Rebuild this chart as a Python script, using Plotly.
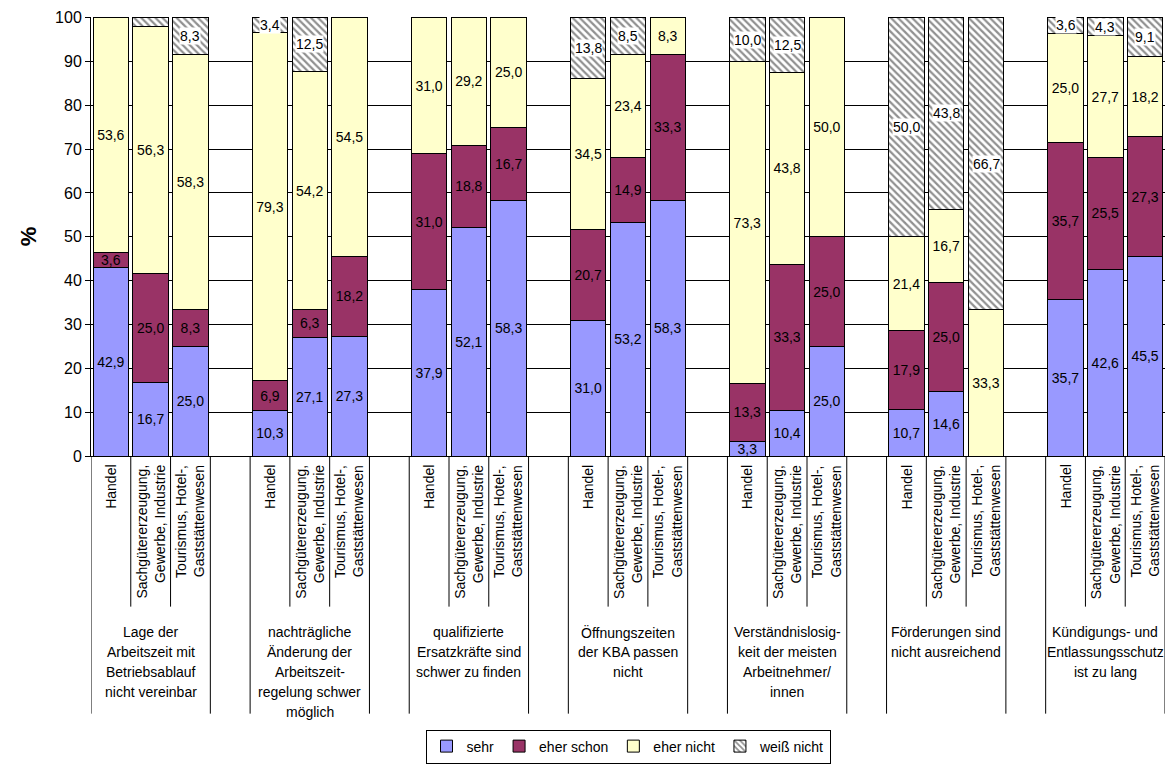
import plotly.graph_objects as go

FONT = "Liberation Sans, Arial, sans-serif"

sectors = ["Handel", "Sachgütererzeugung,<br>Gewerbe, Industrie", "Tourismus, Hotel-,<br>Gaststättenwesen"]
groups = [
    "Lage der<br>Arbeitszeit mit<br>Betriebsablauf<br>nicht vereinbar",
    "nachträgliche<br>Änderung der<br>Arbeitszeit-<br>regelung schwer<br>möglich",
    "qualifizierte<br>Ersatzkräfte sind<br>schwer zu finden",
    "Öffnungszeiten<br>der KBA passen<br>nicht",
    "Verständnislosig-<br>keit der meisten<br>Arbeitnehmer/<br>innen",
    "Förderungen sind<br>nicht ausreichend",
    "Kündigungs- und<br>Entlassungsschutz<br>ist zu lang",
]
series_names = ["sehr", "eher schon", "eher nicht", "weiß nicht"]

sehr = [42.9, 16.7, 25.0, 10.3, 27.1, 27.3, 37.9, 52.1, 58.3, 31.0, 53.2, 58.3,
        3.3, 10.4, 25.0, 10.7, 14.6, 0.0, 35.7, 42.6, 45.5]
eher_schon = [3.6, 25.0, 8.3, 6.9, 6.3, 18.2, 31.0, 18.8, 16.7, 20.7, 14.9, 33.3,
              13.3, 33.3, 25.0, 17.9, 25.0, 0.0, 35.7, 25.5, 27.3]
eher_nicht = [53.6, 56.3, 58.3, 79.3, 54.2, 54.5, 31.0, 29.2, 25.0, 34.5, 23.4, 8.3,
              73.3, 43.8, 50.0, 21.4, 16.7, 33.3, 25.0, 27.7, 18.2]
weiss_nicht = [0.0, 2.1, 8.3, 3.4, 12.5, 0.0, 0.0, 0.0, 0.0, 13.8, 8.5, 0.0,
               10.0, 12.5, 0.0, 50.0, 43.8, 66.7, 3.6, 4.3, 9.1]

colors = ["#9999FF", "#993366", "#FFFFCC", "#FFFFFF"]

n_groups = len(groups)
n_sec = len(sectors)
slot = n_sec + 1
xpos = [g * slot + j for g in range(n_groups) for j in range(n_sec)]


def lab(v):
    return f"{v:.1f}".replace(".", ",") if v >= 3 else ""


fig = go.Figure()
series = [sehr, eher_schon, eher_nicht]
for name, vals, col in zip(series_names[:3], series, colors[:3]):
    fig.add_trace(go.Bar(
        x=xpos, y=vals, name=name,
        marker=dict(color=col, line=dict(color="#000000", width=1)),
        text=[lab(v) for v in vals], textposition="inside", insidetextanchor="middle",
        textangle=0, textfont=dict(family=FONT, size=14, color="#000000"),
        cliponaxis=False, hoverinfo="skip",
    ))

fig.add_trace(go.Bar(
    x=xpos, y=weiss_nicht, name=series_names[3],
    marker=dict(color="#FFFFFF", line=dict(color="#000000", width=1),
                pattern=dict(shape="\\", fgcolor="#222222", bgcolor="#FFFFFF", size=5, solidity=0.45)),
    cliponaxis=False, hoverinfo="skip",
))

annotations = []
# labels for "weiß nicht" with white background
for x, a, b, c, d in zip(xpos, sehr, eher_schon, eher_nicht, weiss_nicht):
    if d >= 3:
        annotations.append(dict(
            x=x, y=a + b + c + d / 2, xref="x", yref="y", text=lab(d), showarrow=False,
            font=dict(family=FONT, size=14, color="#000000"), bgcolor="#FFFFFF", borderpad=0,
        ))

plot_h = 443.0
def py(pix):
    return (460 - pix) / plot_h

shapes = []
for g in range(n_groups):
    start = g * slot - 0.5
    end = start + n_sec
    for xv in (start, end):
        shapes.append(dict(type="line", xref="x", yref="paper", x0=xv, x1=xv, y0=0, y1=py(720),
                           line=dict(color="#000000", width=1)))
    for k in range(1, n_sec):
        shapes.append(dict(type="line", xref="x", yref="paper", x0=start + k, x1=start + k,
                           y0=0, y1=py(612), line=dict(color="#000000", width=1)))
    for j, s in enumerate(sectors):
        annotations.append(dict(
            x=g * slot + j, y=py(467), xref="x", yref="paper", text=s, showarrow=False,
            textangle=-90, xanchor="center", yanchor="top", align="right",
            font=dict(family=FONT, size=14, color="#000000"),
        ))
    for li, line in enumerate(groups[g].split("<br>")):
        annotations.append(dict(
            x=g * slot + (n_sec - 1) / 2, y=py(628 + 20 * li), xref="x", yref="paper", text=line,
            showarrow=False, xanchor="center", yanchor="top", align="center",
            font=dict(family=FONT, size=14, color="#000000"),
        ))

fig.update_layout(
    width=1168, height=767,
    margin=dict(l=91, r=3, t=17, b=307),
    barmode="stack", bargap=0.11,
    plot_bgcolor="#FFFFFF", paper_bgcolor="#FFFFFF",
    font=dict(family=FONT, size=14, color="#000000"),
    uniformtext=dict(minsize=14, mode="show"),
    showlegend=True,
    legend=dict(orientation="h", x=0.5, xanchor="center", y=py(736), yanchor="top",
                bordercolor="#000000", borderwidth=1, font=dict(family=FONT, size=14),
                itemwidth=30, traceorder="normal"),
    xaxis=dict(range=[-0.5, n_groups * slot - 1.5], showticklabels=False, showgrid=False,
               zeroline=False, showline=True, linecolor="#000000", linewidth=1, ticks=""),
    yaxis=dict(range=[0, 100.12], tickvals=list(range(0, 101, 10)), showgrid=True,
               gridcolor="#000000", gridwidth=1,
               zeroline=False, showline=True, linecolor="#000000", linewidth=1,
               ticks="outside", ticklen=5, tickcolor="#000000",
               tickfont=dict(family=FONT, size=16),
               title=dict(text="<b>%</b>", font=dict(family=FONT, size=22), standoff=12)),
    shapes=shapes, annotations=annotations,
)

fig.write_html("out.html", config={"displayModeBar": False},
               post_script="document.body.style.margin='0px';document.body.style.overflow='hidden';")
